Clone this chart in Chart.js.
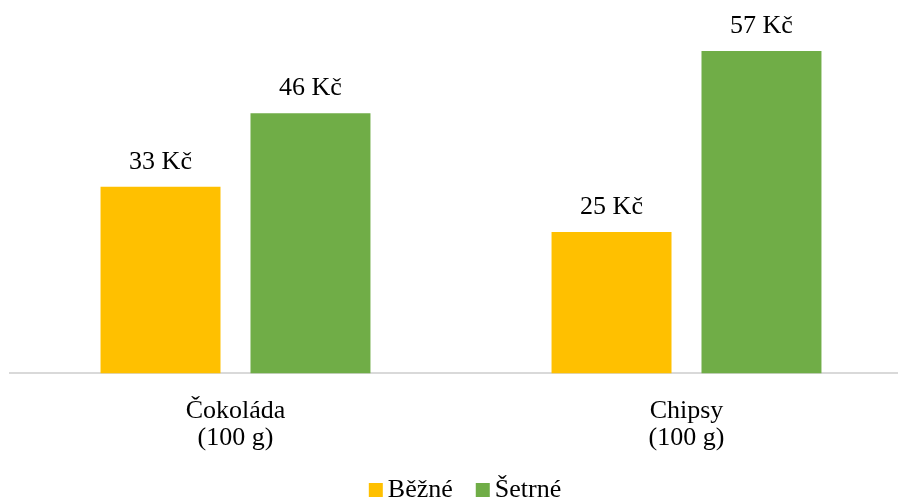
<!DOCTYPE html>
<html>
<head>
<meta charset="utf-8">
<script src="https://cdn.jsdelivr.net/npm/chart.js@4/dist/chart.umd.min.js"></script>
<style>
  html, body { margin: 0; padding: 0; background: #fff; overflow: hidden; }
  #wrap { position: relative; width: 912px; height: 501px; }
</style>
</head>
<body>
<div id="wrap"><canvas id="c"></canvas></div>
<script>
const categories = [["Čokoláda", "(100 g)"], ["Chipsy", "(100 g)"]];
const seriesNames = ["Běžné", "Šetrné"];
const bezne = [33, 25];
const setrne = [46, 57];
const unit = " Kč";

const FONT = "'Liberation Serif', 'Times New Roman', serif";
const FSIZE = 26;

const valueLabels = {
  id: 'valueLabels',
  afterDatasetsDraw(chart) {
    const ctx = chart.ctx;
    ctx.save();
    ctx.font = FSIZE + "px " + FONT;
    ctx.fillStyle = "#000000";
    ctx.textAlign = "center";
    ctx.textBaseline = "alphabetic";
    chart.data.datasets.forEach((ds, i) => {
      const meta = chart.getDatasetMeta(i);
      meta.data.forEach((bar, j) => {
        ctx.fillText(ds.data[j] + unit, bar.x, bar.y - 18);
      });
    });
    ctx.restore();
  }
};

const customLegend = {
  id: 'customLegend',
  afterDraw(chart) {
    const ctx = chart.ctx;
    ctx.save();
    ctx.font = FSIZE + "px " + FONT;
    ctx.textBaseline = "alphabetic";
    ctx.textAlign = "left";
    const box = 14, gapText = 5, gapItem = 23;
    const items = chart.data.datasets.map(ds => ({ text: ds.label, color: ds.backgroundColor, w: ctx.measureText(ds.label).width }));
    let total = 0;
    items.forEach((it, i) => { total += box + gapText + it.w + (i < items.length - 1 ? gapItem : 0); });
    const cx = (chart.chartArea.left + chart.chartArea.right) / 2 + 4;
    let x = cx - total / 2;
    const baseY = 497;
    items.forEach(it => {
      ctx.fillStyle = it.color;
      ctx.fillRect(x, baseY - 14, box, box);
      x += box + gapText;
      ctx.fillStyle = "#000000";
      ctx.fillText(it.text, x, baseY);
      x += it.w + gapItem;
    });
    ctx.restore();
  }
};

new Chart(document.getElementById('c'), {
  type: 'bar',
  data: {
    labels: categories,
    datasets: [
      { label: seriesNames[0], data: bezne, backgroundColor: '#FFC000' },
      { label: seriesNames[1], data: setrne, backgroundColor: '#70AD47' }
    ]
  },
  options: {
    responsive: true,
    maintainAspectRatio: false,
    animation: false,
    datasets: { bar: { categoryPercentage: 0.665, barPercentage: 0.8 } },
    layout: { padding: { top: 34, left: 10, right: 0, bottom: 25 } },
    plugins: {
      legend: { display: false },
      tooltip: { enabled: false }
    },
    scales: {
      x: {
        grid: { display: false, drawTicks: false },
        border: { display: true, color: '#D9D9D9', width: 2 },
        ticks: {
          font: { family: FONT, size: FSIZE, lineHeight: 1.05 },
          color: '#000000',
          padding: 24,
          maxRotation: 0
        }
      },
      y: {
        display: false,
        min: 0,
        max: 60
      }
    }
  },
  plugins: [valueLabels, customLegend]
});
</script>
</body>
</html>
